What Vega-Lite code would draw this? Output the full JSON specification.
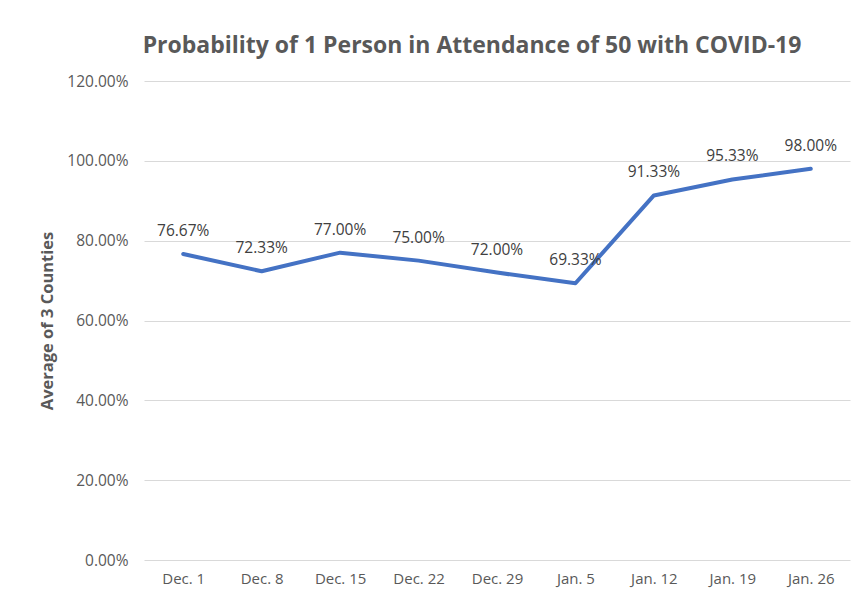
{
  "$schema": "https://vega.github.io/schema/vega-lite/v6.json",
  "width": 706,
  "height": 479,
  "autosize": {"type": "none"},
  "padding": {"left": 144, "top": 81, "right": 7, "bottom": 39},
  "background": "white",
  "title": {
    "text": "Probability of 1 Person in Attendance of 50 with COVID-19",
    "font": "Open Sans",
    "fontSize": 23,
    "fontWeight": "bold",
    "color": "#595959",
    "anchor": "middle",
    "dx": -25,
    "offset": 16
  },
  "data": {
    "values": [
      {"week": "Dec. 1", "value": 0.7667},
      {"week": "Dec. 8", "value": 0.7233},
      {"week": "Dec. 15", "value": 0.77},
      {"week": "Dec. 22", "value": 0.75},
      {"week": "Dec. 29", "value": 0.72},
      {"week": "Jan. 5", "value": 0.6933},
      {"week": "Jan. 12", "value": 0.9133},
      {"week": "Jan. 19", "value": 0.9533},
      {"week": "Jan. 26", "value": 0.98}
    ]
  },
  "encoding": {
    "x": {
      "field": "week",
      "type": "ordinal",
      "sort": null,
      "scale": {"type": "point", "padding": 0.5},
      "axis": {
        "title": null,
        "labelAngle": 0,
        "labelFont": "Open Sans",
        "labelFontSize": 15,
        "labelColor": "#595959",
        "labelPadding": 11,
        "ticks": false,
        "domain": false,
        "grid": false
      }
    },
    "y": {
      "field": "value",
      "type": "quantitative",
      "scale": {"domain": [0, 1.2], "nice": false},
      "axis": {
        "title": "Average of 3 Counties",
        "titleFont": "Open Sans",
        "titleFontSize": 16.5,
        "titleFontWeight": "bold",
        "titleColor": "#595959",
        "titlePadding": 11,
        "format": ".2%",
        "values": [0, 0.2, 0.4, 0.6, 0.8, 1.0, 1.2],
        "labelFont": "Open Sans",
        "labelFontSize": 15.5,
        "labelColor": "#595959",
        "labelPadding": 16,
        "ticks": false,
        "domain": false,
        "grid": true,
        "gridColor": "#d9d9d9",
        "gridWidth": 1
      }
    }
  },
  "layer": [
    {
      "mark": {"type": "line", "color": "#4472C4", "strokeWidth": 4, "strokeCap": "round", "strokeJoin": "round"}
    },
    {
      "mark": {"type": "text", "font": "Open Sans", "fontSize": 15.5, "color": "#404040", "baseline": "middle", "dy": -23},
      "encoding": {
        "text": {"field": "value", "type": "quantitative", "format": ".2%"}
      }
    }
  ],
  "config": {"view": {"stroke": null}}
}
